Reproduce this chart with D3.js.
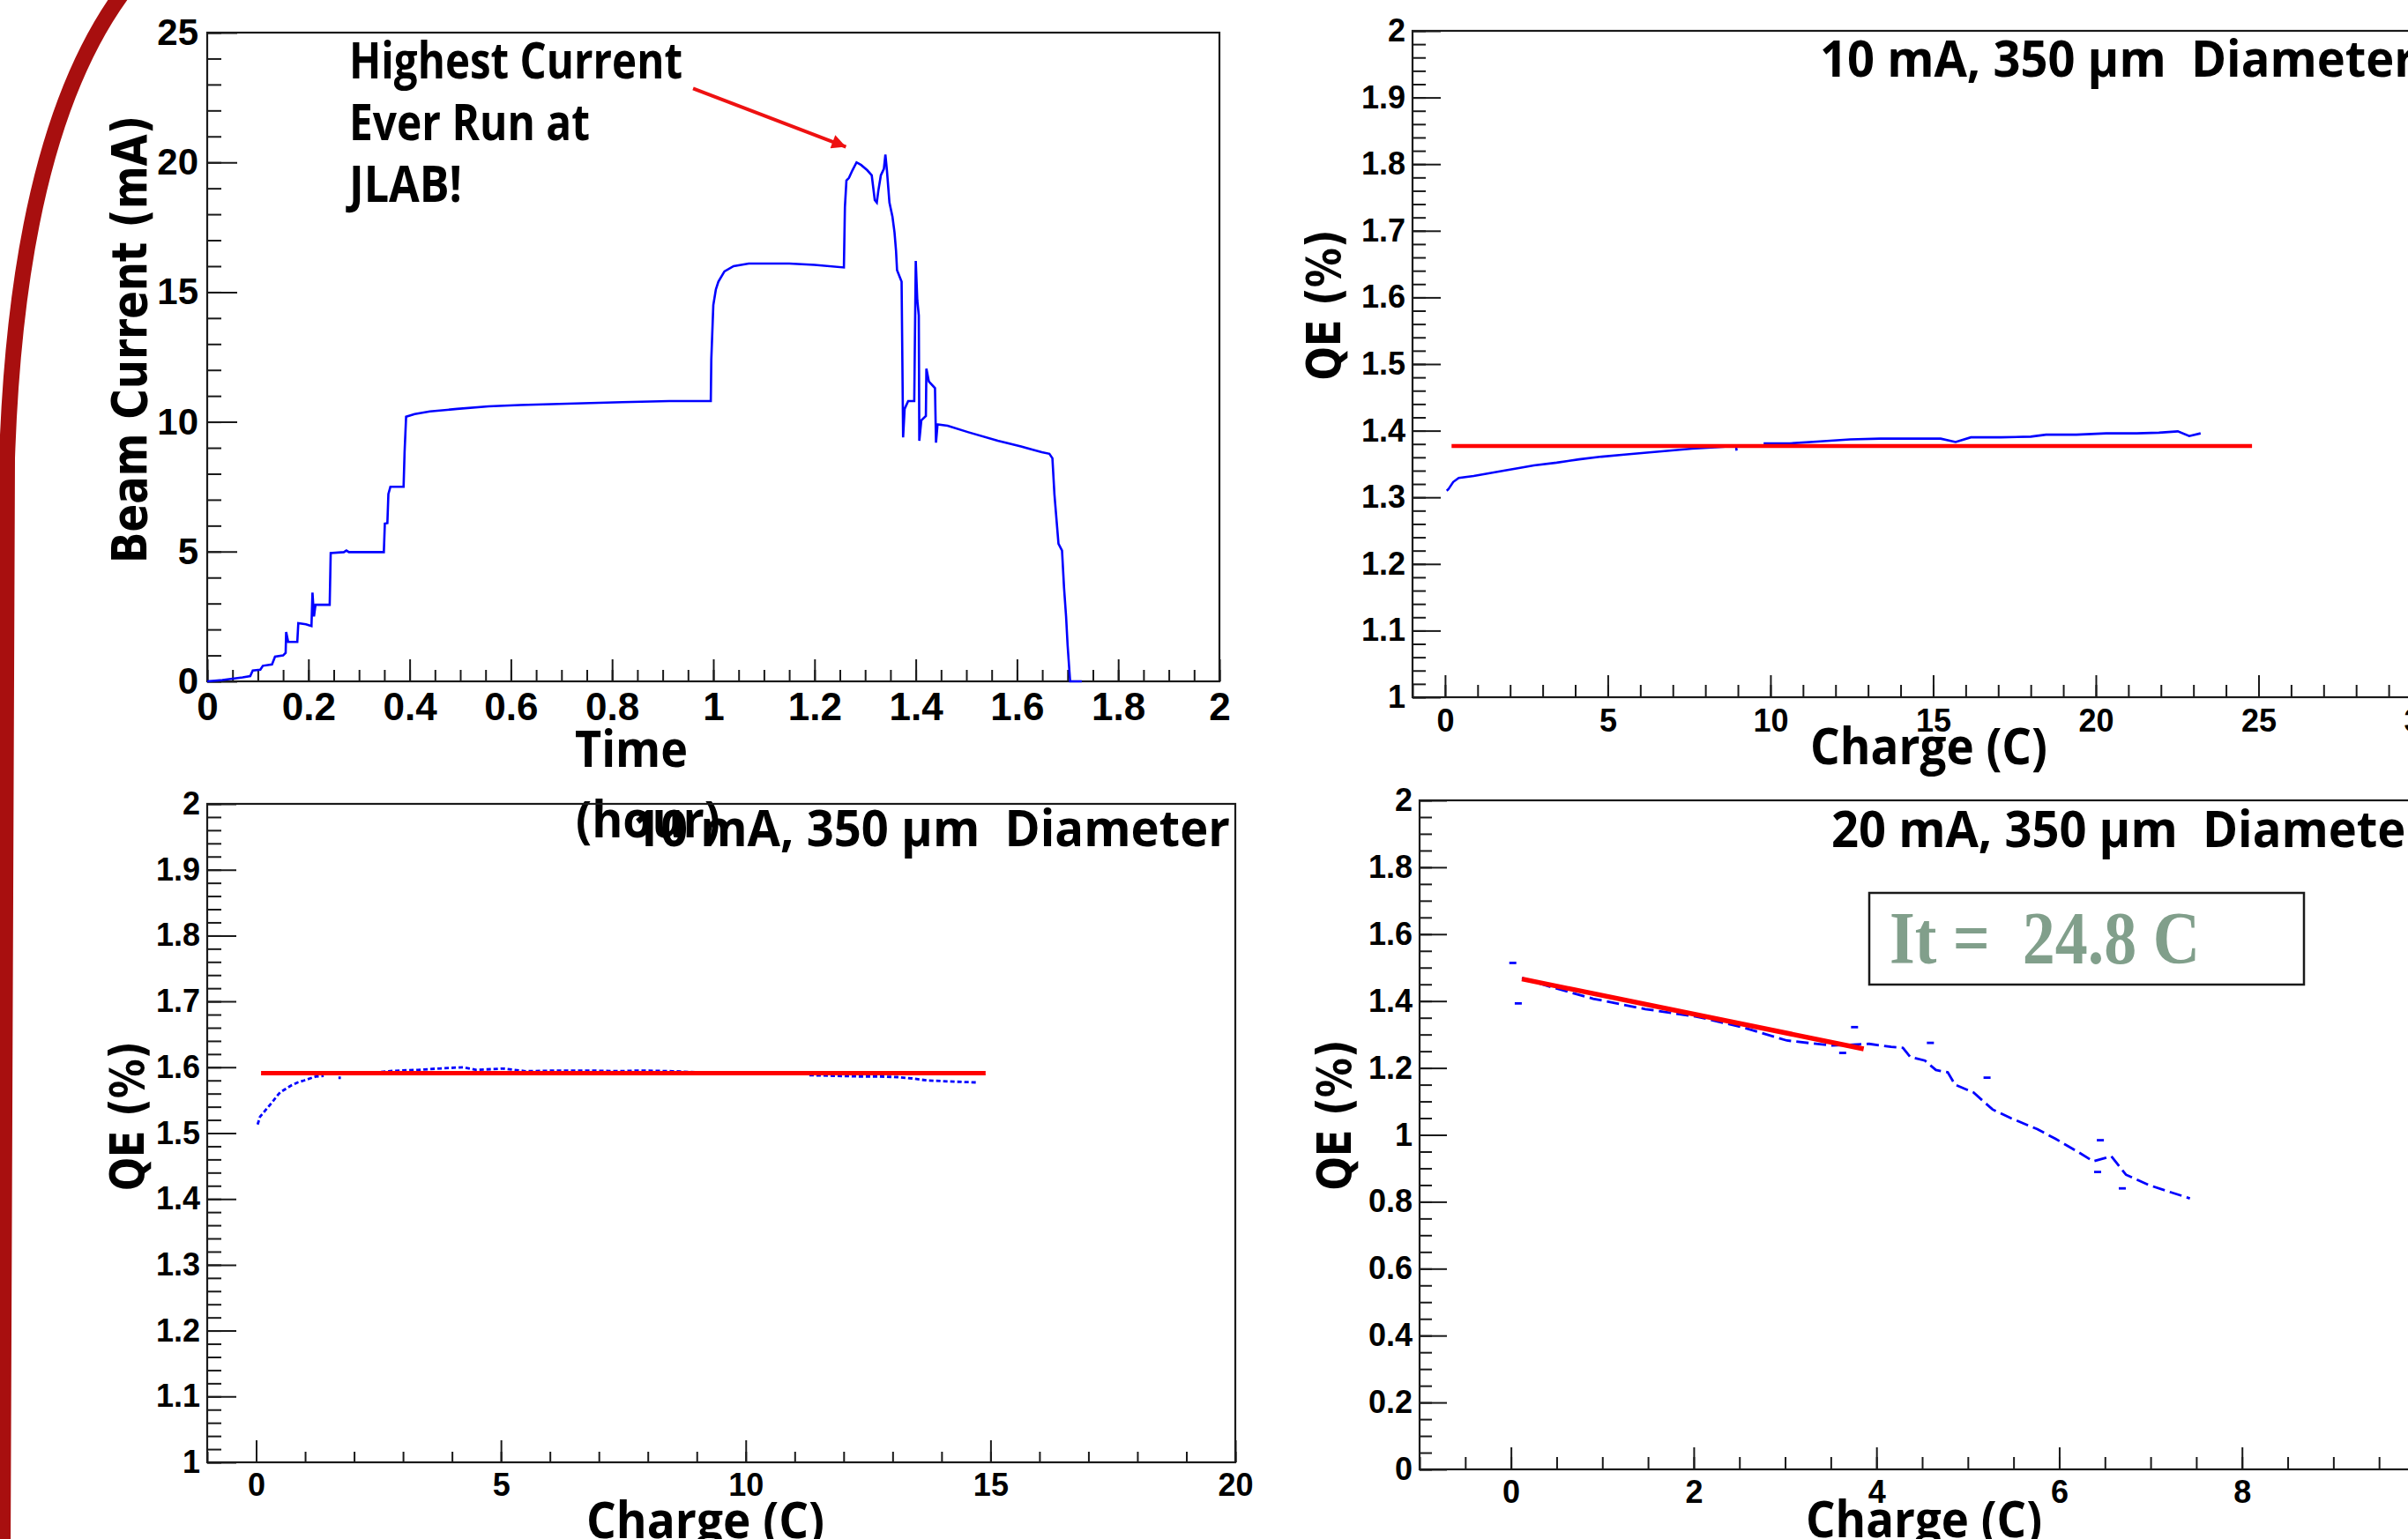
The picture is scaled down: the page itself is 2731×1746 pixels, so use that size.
<!DOCTYPE html>
<html><head><meta charset="utf-8">
<script src="https://cdn.jsdelivr.net/npm/d3@7"></script>
<style>
html,body{margin:0;padding:0;background:#fff;overflow:hidden}
svg{display:block}
</style></head><body>
<svg id="c" width="2731" height="1746"></svg>
<script>
// ---------------- DATA ----------------
// Panel 1: beam current vs time
const beamTime = [0,0.03,0.05,0.07,0.085,0.09,0.105,0.11,0.128,0.134,
  0.15,0.155,0.156,0.16,0.178,0.18,0.195,0.206,0.208,0.211,
  0.214,0.242,0.244,0.27,0.275,0.28,0.349,0.351,0.356,0.358,
  0.362,0.388,0.39,0.393,0.41,0.44,0.494,0.556,0.618,0.711,
  0.82,0.913,0.995,0.996,1.0,1.005,1.01,1.022,1.04,1.07,
  1.15,1.2,1.258,1.26,1.263,1.268,1.275,1.283,1.292,1.304,
  1.313,1.319,1.323,1.326,1.331,1.337,1.34,1.343,1.348,1.354,
  1.358,1.361,1.363,1.372,1.375,1.378,1.385,1.397,1.4,1.403,
  1.406,1.407,1.411,1.42,1.421,1.426,1.438,1.44,1.443,1.463,
  1.504,1.562,1.608,1.649,1.664,1.67,1.674,1.682,1.689,1.693,
  1.697,1.7,1.705,1.728];
const beamCurrent = [0,0.05,0.1,0.15,0.2,0.42,0.45,0.6,0.65,0.95,
  1.0,1.1,1.9,1.52,1.52,2.24,2.2,2.13,3.42,2.5,
  2.95,2.95,4.94,4.98,5.04,4.98,4.98,6.08,6.1,7.22,
  7.5,7.5,8.84,10.2,10.3,10.4,10.5,10.6,10.65,10.7,
  10.76,10.8,10.8,12.4,14.5,15.1,15.4,15.8,16.0,16.1,
  16.1,16.05,15.95,18.27,19.3,19.4,19.7,20.0,19.9,19.7,
  19.5,18.55,18.45,18.9,19.5,19.75,20.3,19.7,18.45,17.9,
  17.3,16.6,15.85,15.4,9.4,10.5,10.8,10.8,16.2,14.7,
  14.1,9.27,10.06,10.23,12.05,11.55,11.3,9.2,9.9,9.85,
  9.6,9.27,9.05,8.83,8.77,8.6,7.2,5.3,5.04,3.6,
  2.5,1.4,0,0];
const arrowFrom = [0.96, 22.85];
const arrowTo = [1.262, 20.6];
const annotationLines = ["Highest Current", "Ever Run at", "JLAB!"];

// Panel 2: QE vs charge, 10 mA (top right); null = gap
const qeACharge = [0.05,0.1,0.25,0.42,0.88,1.34,1.8,2.27,2.73,3.43,4.12,4.81,5.51,6.2,6.9,7.59,8.29,8.94,8.96,9.4,
  9.79,10.6,11.53,12.45,13.38,14.31,15.23,15.69,16.16,17.08,18.0,18.47,19.4,20.32,21.25,21.94,22.52,22.87,23.22];
const qeAValue = [1.31,1.312,1.323,1.329,1.332,1.336,1.34,1.344,1.348,1.352,1.357,1.361,1.364,1.367,1.37,1.373,1.375,1.377,1.37,null,
  1.381,1.381,1.384,1.387,1.388,1.388,1.388,1.383,1.39,1.39,1.391,1.394,1.394,1.396,1.396,1.397,1.399,1.392,1.396];
const fitACharge = [0.2, 24.8];
const fitAValue = [1.377, 1.377];

// Panel 3: QE vs charge, 10 mA (bottom left)
const qeBCharge = [0.03,0.08,0.16,0.25,0.33,0.41,0.49,0.6,0.73,0.85,0.98,1.1,1.22,1.38,1.5,1.68,1.73,1.9,
  2.12,2.4,2.7,2.93,3.3,3.7,4.23,4.5,5.05,5.5,6.19,6.8,7.4,7.8,8.5,9.12,9.5,9.8,9.9,10.0,10.15,10.22,10.8,
  11.3,11.8,12.3,12.7,13.1,13.4,13.7,14.0,14.3,14.7];
const qeBValue = [1.513,1.525,1.532,1.54,1.547,1.555,1.562,1.567,1.573,1.577,1.58,1.583,1.586,1.587,null,1.584,1.584,null,
  1.591,1.592,1.594,1.595,1.596,1.598,1.6,1.596,1.598,1.594,1.595,1.595,1.594,1.595,1.594,1.592,null,1.592,1.592,null,1.591,1.591,null,
  1.588,1.587,1.586,1.586,1.585,1.583,1.58,1.579,1.578,1.577];
const fitBCharge = [0.1, 14.9];
const fitBValue = [1.591, 1.591];

// Panel 4: QE vs charge, 20 mA
const qeCCharge = [0.12,0.41,0.9,1.47,2.04,2.53,3.02,3.51,3.92,4.16,4.29,4.37,4.53,4.65,4.78,4.86,5.06,5.27,5.47,5.76,5.96,6.2,6.37,6.57,6.73,6.98,7.18,7.43];
const qeCValue = [1.469,1.444,1.407,1.376,1.353,1.322,1.282,1.267,1.272,1.263,1.26,1.233,1.222,1.194,1.187,1.15,1.127,1.076,1.05,1.017,0.988,0.95,0.921,0.936,0.881,0.85,0.832,0.81];
const qeCOutCharge = [0.02,0.08,3.63,3.76,4.59,5.21,6.45,6.42,6.69];
const qeCOutValue = [1.514,1.393,1.245,1.322,1.275,1.171,0.984,0.889,0.84];
const fitCCharge = [0.12, 3.86];
const fitCValue = [1.466, 1.257];
const lifetimeText = "It =  24.8 C";

// Tick label values
const p1XTicks = [0,0.2,0.4,0.6,0.8,1,1.2,1.4,1.6,1.8,2];
const p1YTicks = [0,5,10,15,20,25];
const qeTicks = [1,1.1,1.2,1.3,1.4,1.5,1.6,1.7,1.8,1.9,2];
const p2XTicks = [0,5,10,15,20,25,30];
const p3XTicks = [0,5,10,15,20];
const p4XTicks = [0,2,4,6,8,10];
const p4YTicks = [0,0.2,0.4,0.6,0.8,1,1.2,1.4,1.6,1.8,2];

// ---------------- DRAW ----------------
const svg = d3.select("#c");
const INK = "#1a1a1a";
const TICKFONT = "'Liberation Sans', Arial, sans-serif";
const CALIBRI = "'Open Sans', 'Noto Sans', sans-serif";
const VERDANA = "'DejaVu Sans', Verdana, sans-serif";

// slide decoration arc (left)
svg.append("path")
  .attr("d","M142,-12 Q20,150 8,520 L3,1760")
  .attr("fill","none").attr("stroke","#a80f0f").attr("stroke-width",18);

function rng(a,b,s){ const n=Math.round((b-a)/s); return d3.range(n+1).map(i=>+(a+i*s).toFixed(5)); }

function panel(c){
  const x = d3.scaleLinear().domain(c.xDomain).range([c.left,c.right]);
  const y = d3.scaleLinear().domain(c.yDomain).range([c.bottom,c.top]);
  const g = svg.append("g");
  const style = sel => { sel.select(".domain").remove();
    sel.selectAll("line").attr("stroke",INK).attr("stroke-width",2);
    sel.selectAll("text").attr("font-family",TICKFONT).attr("font-weight","bold")
      .attr("fill","#000").attr("font-size",c.font); };
  g.append("g").attr("transform",`translate(0,${c.bottom})`)
    .call(d3.axisBottom(x).tickValues(c.xMinor).tickSize(-c.xMinorLen).tickFormat("")).call(style);
  g.append("g").attr("transform",`translate(0,${c.bottom})`)
    .call(d3.axisBottom(x).tickValues(c.xMajor).tickSize(-c.xMajorLen).tickPadding(c.xPad).tickFormat(d=>String(d))).call(style);
  g.append("g").attr("transform",`translate(${c.left},0)`)
    .call(d3.axisLeft(y).tickValues(c.yMinor).tickSize(-c.yMinorLen).tickFormat("")).call(style);
  const ya = g.append("g").attr("transform",`translate(${c.left},0)`)
    .call(d3.axisLeft(y).tickValues(c.yMajor).tickSize(-c.yMajorLen).tickPadding(c.yPad).tickFormat(d=>String(d))).call(style);
  if (c.yFont) ya.selectAll("text").attr("font-size",c.yFont);
  // frame
  g.append("rect").attr("x",c.left).attr("y",c.top).attr("width",c.right-c.left).attr("height",c.bottom-c.top)
    .attr("fill","none").attr("stroke",INK).attr("stroke-width",2.2);
  return {x,y,g};
}

function txt(s, x, y, o){
  const t = svg.append("text").attr("x",x).attr("y",y).text(s)
    .attr("font-family",o.family).attr("font-weight","bold").attr("font-size",o.size)
    .attr("fill",o.fill||"#000").style("white-space","pre");
  if (o.anchor) t.attr("text-anchor",o.anchor);
  if (o.len) t.attr("textLength",o.len).attr("lengthAdjust","spacingAndGlyphs");
  if (o.rotate) t.attr("transform",`rotate(${o.rotate},${x},${y})`);
  return t;
}

function zip(xs, ys){ return xs.map((v,i)=>({x:v,y:ys[i]})); }

// ---- Panel 1 ----
const P1 = panel({left:235,right:1383,top:37,bottom:773,xDomain:[0,2],yDomain:[0,25],
  xMajor:p1XTicks,xMinor:rng(0,2,0.05),yMajor:p1YTicks,yMinor:rng(0,25,1),
  xMajorLen:25,xMinorLen:13,yMajorLen:34,yMinorLen:16,font:44,yFont:42,xPad:13,yPad:10});
P1.g.append("path").datum(zip(beamTime,beamCurrent))
  .attr("d",d3.line().x(d=>P1.x(d.x)).y(d=>P1.y(d.y)))
  .attr("fill","none").attr("stroke","#0000ff").attr("stroke-width",2.6).attr("stroke-linejoin","miter");
// arrow
svg.append("defs").append("marker").attr("id","ah").attr("markerUnits","userSpaceOnUse")
  .attr("viewBox","0 0 10 10").attr("refX",10).attr("refY",5).attr("markerWidth",24).attr("markerHeight",16)
  .attr("orient","auto").append("path").attr("d","M0,0 L10,5 L0,10 z").attr("fill","#ee1111");
P1.g.append("line").attr("x1",P1.x(arrowFrom[0])).attr("y1",P1.y(arrowFrom[1]))
  .attr("x2",P1.x(arrowTo[0])).attr("y2",P1.y(arrowTo[1]))
  .attr("stroke","#ee1111").attr("stroke-width",4).attr("marker-end","url(#ah)");
const annLens = [378, 273, 128];
annotationLines.forEach((s,i)=> txt(s, 396, 89 + i*70, {family:CALIBRI,size:57,len:annLens[i]}));
txt("Beam Current (mA)", 166, 385, {family:VERDANA,size:55,anchor:"middle",rotate:-90,len:508});
txt("Time", 652, 870, {family:CALIBRI,size:58,len:128});
txt("(hour)", 653, 950, {family:CALIBRI,size:58,len:164});

// ---- Panel 2 ----
const P2 = panel({left:1602,right:2746,top:35,bottom:791,xDomain:[-1,30],yDomain:[1,2],
  xMajor:p2XTicks,xMinor:rng(-1,30,1),yMajor:qeTicks,yMinor:rng(1,2,0.02),
  xMajorLen:25,xMinorLen:14,yMajorLen:32,yMinorLen:15,font:36,xPad:13,yPad:8});
P2.g.append("path").datum(zip(qeACharge,qeAValue))
  .attr("d",d3.line().defined(d=>d.y!=null).x(d=>P2.x(d.x)).y(d=>P2.y(d.y)))
  .attr("fill","none").attr("stroke","#0000ff").attr("stroke-width",2.6);
P2.g.append("path").datum(zip(fitACharge,fitAValue))
  .attr("d",d3.line().x(d=>P2.x(d.x)).y(d=>P2.y(d.y)))
  .attr("fill","none").attr("stroke","#ff0000").attr("stroke-width",4.5);
txt("10 mA, 350 µm  Diameter", 2064, 87, {family:CALIBRI,size:57,len:676});
txt("QE (%)", 1520, 346, {family:VERDANA,size:54,anchor:"middle",rotate:-90,len:171});
txt("Charge (C)", 2053, 867, {family:CALIBRI,size:57,len:269});

// ---- Panel 3 ----
const P3 = panel({left:235,right:1401,top:912,bottom:1659,xDomain:[-1,20],yDomain:[1,2],
  xMajor:p3XTicks,xMinor:rng(-1,20,1),yMajor:qeTicks,yMinor:rng(1,2,0.02),
  xMajorLen:25,xMinorLen:12,yMajorLen:33,yMinorLen:16,font:36,xPad:12,yPad:8});
P3.g.append("path").datum(zip(qeBCharge,qeBValue))
  .attr("d",d3.line().defined(d=>d.y!=null).x(d=>P3.x(d.x)).y(d=>P3.y(d.y)))
  .attr("fill","none").attr("stroke","#0000ff").attr("stroke-width",2.8).attr("stroke-dasharray","5,3");
P3.g.append("path").datum(zip(fitBCharge,fitBValue))
  .attr("d",d3.line().x(d=>P3.x(d.x)).y(d=>P3.y(d.y)))
  .attr("fill","none").attr("stroke","#ff0000").attr("stroke-width",5);
txt("10 mA, 350 µm  Diameter", 718, 960, {family:CALIBRI,size:57,len:677});
txt("QE (%)", 163, 1266, {family:VERDANA,size:54,anchor:"middle",rotate:-90,len:170});
txt("Charge (C)", 665, 1745, {family:CALIBRI,size:57,len:270});

// ---- Panel 4 ----
const P4 = panel({left:1610,right:2750,top:908,bottom:1667,xDomain:[-1,10],yDomain:[0,2],
  xMajor:p4XTicks,xMinor:rng(-1,10,0.5),yMajor:p4YTicks,yMinor:rng(0,2,0.05),
  xMajorLen:25,xMinorLen:14,yMajorLen:31,yMinorLen:14,font:36,xPad:12,yPad:8});
P4.g.append("path").datum(zip(qeCCharge,qeCValue))
  .attr("d",d3.line().x(d=>P4.x(d.x)).y(d=>P4.y(d.y)))
  .attr("fill","none").attr("stroke","#0000ff").attr("stroke-width",2.8).attr("stroke-dasharray","14,6");
P4.g.selectAll("line.out").data(zip(qeCOutCharge,qeCOutValue)).join("line").attr("class","out")
  .attr("x1",d=>P4.x(d.x)-4).attr("x2",d=>P4.x(d.x)+4)
  .attr("y1",d=>P4.y(d.y)).attr("y2",d=>P4.y(d.y))
  .attr("stroke","#0000ff").attr("stroke-width",2.8);
P4.g.append("path").datum(zip(fitCCharge,fitCValue))
  .attr("d",d3.line().x(d=>P4.x(d.x)).y(d=>P4.y(d.y)))
  .attr("fill","none").attr("stroke","#ff0000").attr("stroke-width",5.5);
txt("20 mA, 350 µm  Diameter", 2077, 961, {family:CALIBRI,size:57,len:676});
txt("QE (%)", 1532, 1265, {family:VERDANA,size:54,anchor:"middle",rotate:-90,len:171});
txt("Charge (C)", 2048, 1744, {family:CALIBRI,size:57,len:268});
svg.append("rect").attr("x",2120).attr("y",1013).attr("width",493).attr("height",104)
  .attr("fill","#fff").attr("stroke",INK).attr("stroke-width",2.5);
txt(lifetimeText, 2143, 1093, {family:"'Liberation Serif', 'Times New Roman', serif",size:84,fill:"#819f8b",len:352});
</script>
</body></html>
